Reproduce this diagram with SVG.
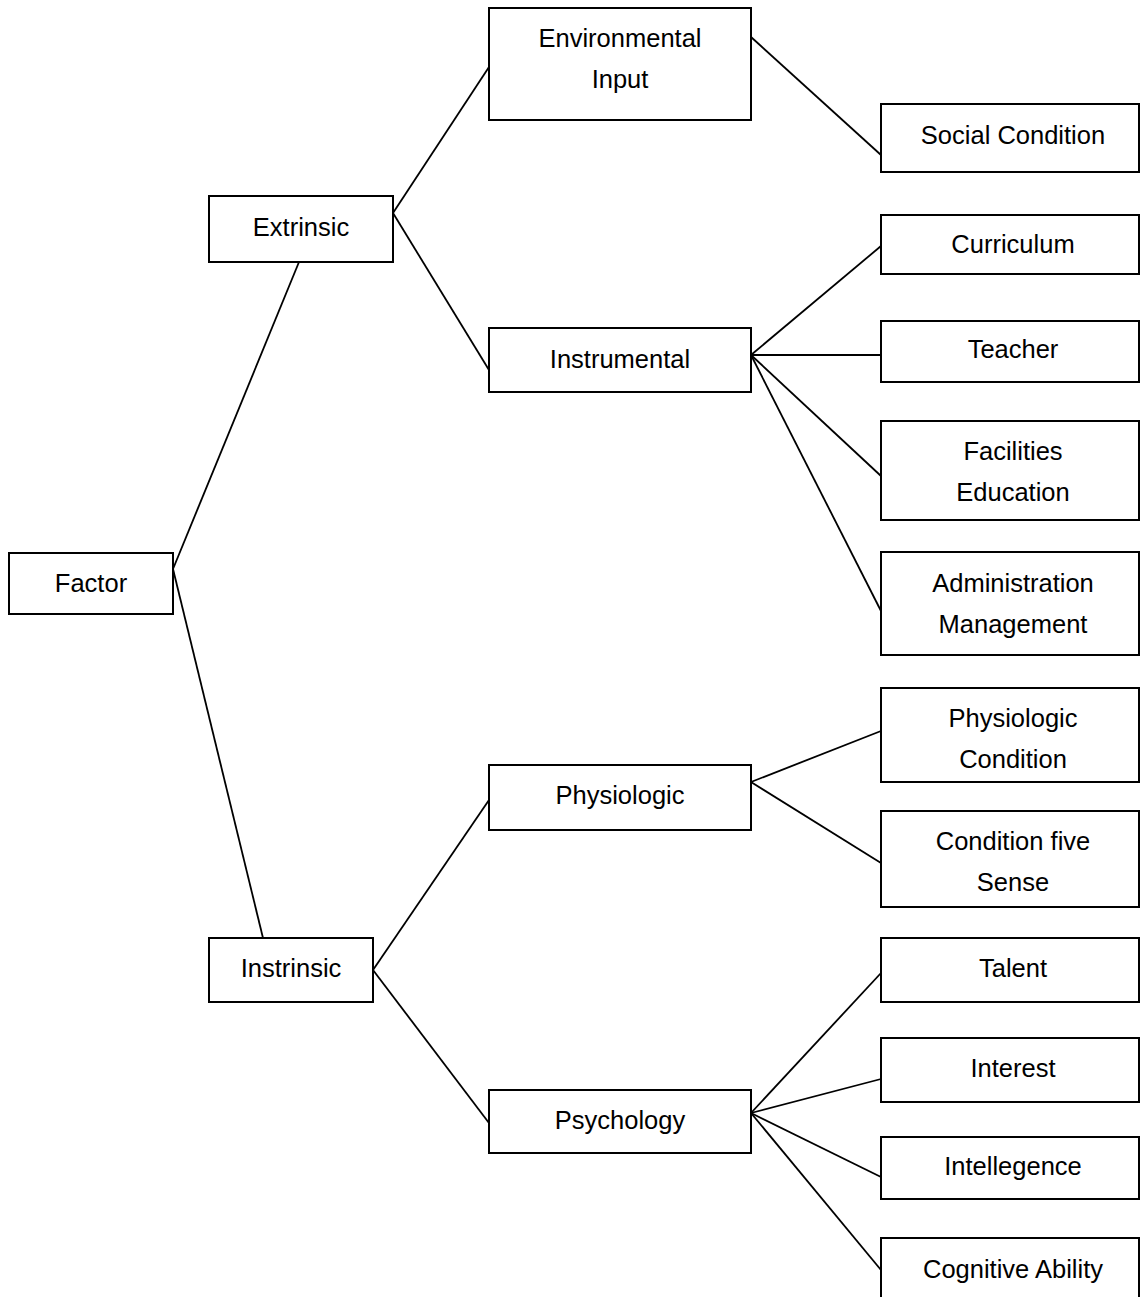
<svg xmlns="http://www.w3.org/2000/svg" width="1140" height="1297" viewBox="0 0 1140 1297">
<style>
.box{fill:#fff;stroke:#000;stroke-width:2}
.lbl{font-family:"Liberation Sans",Arial,sans-serif;font-size:25.5px;fill:#000;text-anchor:middle}
.conn line{stroke:#000;stroke-width:1.8}
</style>
<rect x="0" y="0" width="1140" height="1297" fill="#fff"/>
<g id="connectors" class="conn">
<line x1="173" y1="569" x2="299" y2="262"/>
<line x1="173" y1="569" x2="263" y2="938"/>
<line x1="393" y1="213" x2="489" y2="67"/>
<line x1="393" y1="213" x2="489" y2="370"/>
<line x1="751" y1="37" x2="881" y2="155"/>
<line x1="751" y1="355" x2="881" y2="246"/>
<line x1="751" y1="355" x2="881" y2="355"/>
<line x1="751" y1="355" x2="881" y2="476"/>
<line x1="751" y1="355" x2="881" y2="611"/>
<line x1="751" y1="782" x2="881" y2="731"/>
<line x1="751" y1="782" x2="881" y2="863"/>
<line x1="373" y1="970" x2="489" y2="800"/>
<line x1="373" y1="970" x2="489" y2="1123"/>
<line x1="751" y1="1113" x2="881" y2="973"/>
<line x1="751" y1="1113" x2="881" y2="1079"/>
<line x1="751" y1="1113" x2="881" y2="1177"/>
<line x1="751" y1="1113" x2="881" y2="1270"/>
</g>
<g id="factor"><rect class="box" x="9" y="553" width="164" height="61"/><text class="lbl" x="91" y="592">Factor</text></g>
<g id="extrinsic"><rect class="box" x="209" y="196" width="184" height="66"/><text class="lbl" x="301" y="236">Extrinsic</text></g>
<g id="instrinsic"><rect class="box" x="209" y="938" width="164" height="64"/><text class="lbl" x="291" y="977">Instrinsic</text></g>
<g id="environmental-input"><rect class="box" x="489" y="8" width="262" height="112"/><text class="lbl" x="620" y="47">Environmental</text><text class="lbl" x="620" y="88">Input</text></g>
<g id="instrumental"><rect class="box" x="489" y="328" width="262" height="64"/><text class="lbl" x="620" y="368">Instrumental</text></g>
<g id="physiologic"><rect class="box" x="489" y="765" width="262" height="65"/><text class="lbl" x="620" y="804">Physiologic</text></g>
<g id="psychology"><rect class="box" x="489" y="1090" width="262" height="63"/><text class="lbl" x="620" y="1129">Psychology</text></g>
<g id="social-condition"><rect class="box" x="881" y="104" width="258" height="68"/><text class="lbl" x="1013" y="144">Social Condition</text></g>
<g id="curriculum"><rect class="box" x="881" y="215" width="258" height="59"/><text class="lbl" x="1013" y="253">Curriculum</text></g>
<g id="teacher"><rect class="box" x="881" y="321" width="258" height="61"/><text class="lbl" x="1013" y="358">Teacher</text></g>
<g id="facilities-education"><rect class="box" x="881" y="421" width="258" height="99"/><text class="lbl" x="1013" y="460">Facilities</text><text class="lbl" x="1013" y="501">Education</text></g>
<g id="administration-management"><rect class="box" x="881" y="552" width="258" height="103"/><text class="lbl" x="1013" y="592">Administration</text><text class="lbl" x="1013" y="633">Management</text></g>
<g id="physiologic-condition"><rect class="box" x="881" y="688" width="258" height="94"/><text class="lbl" x="1013" y="727">Physiologic</text><text class="lbl" x="1013" y="768">Condition</text></g>
<g id="condition-five-sense"><rect class="box" x="881" y="811" width="258" height="96"/><text class="lbl" x="1013" y="850">Condition five</text><text class="lbl" x="1013" y="891">Sense</text></g>
<g id="talent"><rect class="box" x="881" y="938" width="258" height="64"/><text class="lbl" x="1013" y="977">Talent</text></g>
<g id="interest"><rect class="box" x="881" y="1038" width="258" height="64"/><text class="lbl" x="1013" y="1077">Interest</text></g>
<g id="intellegence"><rect class="box" x="881" y="1137" width="258" height="62"/><text class="lbl" x="1013" y="1175">Intellegence</text></g>
<g id="cognitive-ability"><rect class="box" x="881" y="1238" width="258" height="70"/><text class="lbl" x="1013" y="1278">Cognitive Ability</text></g>
</svg>
